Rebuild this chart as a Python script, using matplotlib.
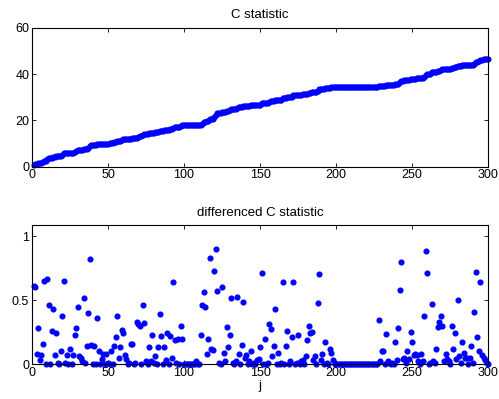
import numpy as np
import matplotlib
matplotlib.use('Agg')
from matplotlib import pyplot as plt

plt.rcParams['font.family'] = ['Liberation Sans', 'DejaVu Sans']

# differenced C statistic (j = 1..300)
diff_c = [
    0.61, 0.60, 0.08, 0.28, 0.03, 0.07, 0.16, 0.65, 0.00, 0.67,
    0.46, 0.00, 0.26, 0.43, 0.07, 0.24, 0.01, 0.00, 0.10, 0.375,
    0.65, 0.01, 0.07, 0.00, 0.12, 0.00, 0.07, 0.23, 0.28, 0.45,
    0.06, 0.05, 0.02, 0.52, 0.01, 0.14, 0.40, 0.82, 0.15, 0.00,
    0.14, 0.00, 0.36, 0.10, 0.00, 0.04, 0.08, 0.00, 0.08, 0.01,
    0.00, 0.10, 0.00, 0.14, 0.21, 0.375, 0.05, 0.13, 0.27, 0.24,
    0.07, 0.04, 0.00, 0.01, 0.16, 0.16, 0.00, 0.01, 0.33, 0.31,
    0.30, 0.00, 0.46, 0.32, 0.02, 0.00, 0.13, 0.02, 0.23, 0.01,
    0.06, 0.00, 0.13, 0.39, 0.22, 0.00, 0.13, 0.03, 0.24, 0.00,
    0.22, 0.05, 0.64, 0.19, 0.01, 0.20, 0.00, 0.30, 0.20, 0.00,
    0.00, 0.00, 0.00, 0.00, 0.00, 0.00, 0.00, 0.02, 0.00, 0.00,
    0.23, 0.46, 0.565, 0.45, 0.08, 0.20, 0.83, 0.12, 0.11, 0.73,
    0.90, 0.57, 0.01, 0.00, 0.60, 0.09, 0.02, 0.29, 0.13, 0.23,
    0.52, 0.01, 0.00, 0.02, 0.525, 0.08, 0.00, 0.15, 0.49, 0.05,
    0.07, 0.00, 0.02, 0.10, 0.00, 0.01, 0.00, 0.03, 0.04, 0.13,
    0.71, 0.00, 0.20, 0.00, 0.01, 0.31, 0.275, 0.06, 0.14, 0.435,
    0.00, 0.09, 0.00, 0.01, 0.645, 0.00, 0.14, 0.26, 0.00, 0.02,
    0.21, 0.64, 0.00, 0.01, 0.23, 0.00, 0.02, 0.03, 0.00, 0.06,
    0.19, 0.30, 0.24, 0.25, 0.03, 0.06, 0.00, 0.48, 0.705, 0.03,
    0.08, 0.00, 0.17, 0.01, 0.00, 0.12, 0.09, 0.03, 0.00, 0.00,
    0.00, 0.00, 0.00, 0.00, 0.00, 0.00, 0.00, 0.00, 0.00, 0.00,
    0.00, 0.00, 0.00, 0.00, 0.00, 0.00, 0.00, 0.00, 0.00, 0.00,
    0.00, 0.00, 0.00, 0.00, 0.00, 0.00, 0.00, 0.345, 0.02, 0.10,
    0.10, 0.00, 0.235, 0.02, 0.01, 0.00, 0.01, 0.00, 0.17, 0.03,
    0.28, 0.58, 0.80, 0.04, 0.05, 0.01, 0.10, 0.04, 0.25, 0.17,
    0.07, 0.08, 0.07, 0.02, 0.00, 0.08, 0.02, 0.38, 0.885, 0.71,
    0.00, 0.01, 0.47, 0.02, 0.01, 0.12, 0.29, 0.33, 0.375, 0.30,
    0.02, 0.08, 0.04, 0.02, 0.00, 0.30, 0.12, 0.24, 0.04, 0.50,
    0.06, 0.01, 0.17, 0.09, 0.05, 0.05, 0.00, 0.05, 0.14, 0.01,
    0.41, 0.72, 0.21, 0.10, 0.64, 0.07, 0.05, 0.03, 0.01, 0.00,
]

# C statistic (j = 1..300)
c_stat = [
    0.6, 1.2, 1.3, 1.6, 1.6, 1.7, 1.9, 2.5, 2.5, 3.2,
    3.7, 3.7, 3.9, 4.4, 4.4, 4.7, 4.7, 4.7, 4.8, 5.2,
    5.8, 5.8, 5.9, 5.9, 6.0, 6.0, 6.1, 6.3, 6.6, 7.0,
    7.1, 7.1, 7.2, 7.7, 7.7, 7.8, 8.2, 9.1, 9.2, 9.2,
    9.4, 9.4, 9.7, 9.8, 9.8, 9.9, 9.9, 9.9, 10.0, 10.0,
    10.3, 10.4, 10.4, 10.5, 10.7, 11.1, 11.2, 11.3, 11.6, 11.8,
    11.9, 11.9, 11.9, 12.0, 12.1, 12.3, 12.3, 12.3, 12.6, 12.9,
    13.2, 13.2, 13.7, 14.1, 14.2, 14.3, 14.4, 14.5, 14.7, 14.7,
    14.8, 14.8, 14.9, 15.3, 15.5, 15.5, 15.7, 15.7, 15.9, 15.9,
    16.2, 16.2, 16.9, 17.0, 17.1, 17.3, 17.3, 17.6, 17.8, 17.8,
    17.8, 17.8, 17.8, 17.8, 17.8, 17.8, 17.8, 17.8, 17.8, 17.8,
    18.0, 18.5, 19.1, 19.5, 19.6, 19.8, 20.6, 20.7, 20.8, 21.6,
    22.5, 23.1, 23.1, 23.1, 23.7, 23.8, 23.8, 24.1, 24.2, 24.4,
    25.0, 25.0, 25.0, 25.0, 25.5, 25.6, 25.6, 25.8, 26.2, 26.3,
    26.3, 26.3, 26.4, 26.5, 26.5, 26.5, 26.5, 26.5, 26.6, 26.7,
    27.4, 27.4, 27.6, 27.6, 27.6, 27.9, 28.2, 28.2, 28.4, 28.8,
    28.8, 28.9, 28.9, 28.9, 29.6, 29.6, 29.7, 30.0, 30.0, 30.0,
    30.2, 30.9, 30.9, 30.9, 31.1, 31.1, 31.1, 31.2, 31.2, 31.3,
    31.5, 31.8, 32.0, 32.3, 32.3, 32.4, 32.4, 32.8, 33.5, 33.6,
    33.7, 33.7, 33.8, 33.9, 33.9, 34.1, 34.3, 34.4, 34.5, 34.5,
    34.5, 34.5, 34.5, 34.5, 34.5, 34.5, 34.5, 34.5, 34.5, 34.5,
    34.5, 34.5, 34.5, 34.5, 34.5, 34.5, 34.5, 34.5, 34.5, 34.5,
    34.5, 34.5, 34.5, 34.5, 34.5, 34.5, 34.5, 34.8, 34.8, 34.9,
    35.0, 35.0, 35.3, 35.3, 35.3, 35.3, 35.3, 35.3, 35.5, 35.5,
    35.8, 36.4, 37.2, 37.2, 37.3, 37.3, 37.4, 37.4, 37.7, 37.8,
    37.9, 38.0, 38.1, 38.1, 38.1, 38.2, 38.2, 38.6, 39.5, 40.2,
    40.2, 40.2, 40.7, 40.7, 40.7, 40.8, 41.1, 41.4, 41.8, 42.1,
    42.1, 42.2, 42.2, 42.3, 42.3, 42.6, 42.7, 42.9, 43.0, 43.5,
    43.5, 43.5, 43.7, 43.8, 43.8, 43.9, 43.9, 43.9, 44.1, 44.1,
    44.5, 45.2, 45.4, 45.5, 46.2, 46.2, 46.3, 46.3, 46.3, 46.3,
]

j = np.arange(1, len(diff_c) + 1)
blue = '#0000ff'

fig = plt.figure(figsize=(4.99, 3.99), dpi=100)
ax1 = fig.add_axes([0.0641, 0.5822, 0.914, 0.3484])
ax2 = fig.add_axes([0.0641, 0.0877, 0.914, 0.3484])

# top: cumulative C statistic
ax1.plot(j, c_stat, '-o', color=blue, markersize=3.4, linewidth=1, clip_on=False)
ax1.set_xlim(0, 300)
ax1.set_ylim(0, 60)
ax1.set_yticks([0, 20, 40, 60])
ax1.set_title('C statistic', fontsize=9.5, pad=7)

# bottom: differenced C statistic
ax2.plot(j, diff_c, 'o', color=blue, markersize=3.4, clip_on=False)
ax2.set_xlim(0, 300)
ax2.set_ylim(0, 1.09)
ax2.set_yticks([0, 0.5, 1])
ax2.set_yticklabels(['0', '0.5', '1'])
ax2.set_title('differenced C statistic', fontsize=9.5, pad=6.5)
ax2.set_xlabel('j', fontsize=9.5, labelpad=1)

for ax in (ax1, ax2):
    ax.set_xticks(range(0, 301, 50))
    ax.tick_params(direction='in', top=True, right=True, length=3,
                   width=0.6, labelsize=9, pad=2)
    for s in ax.spines.values():
        s.set_linewidth(0.8)

fig.savefig('out.png', dpi=100)
